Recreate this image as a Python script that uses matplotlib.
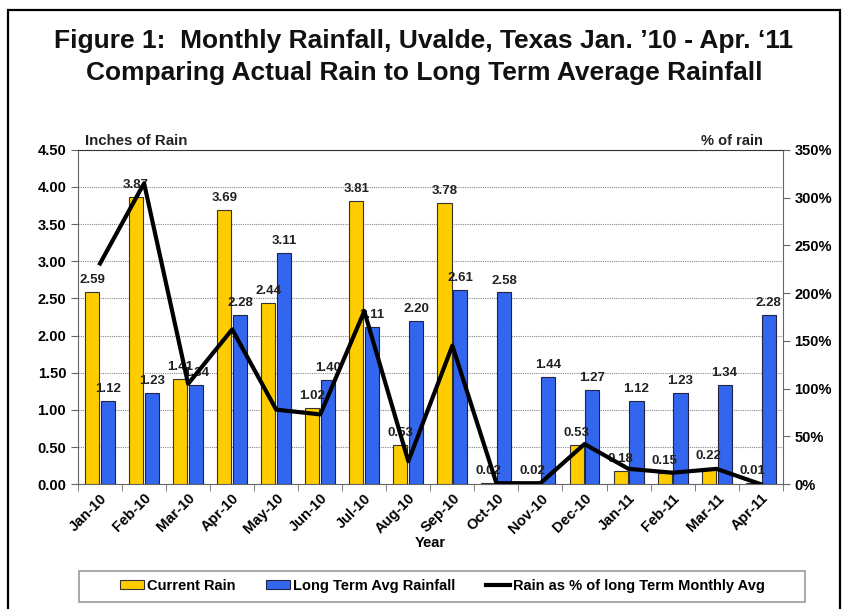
import numpy as np
import matplotlib
matplotlib.use("Agg")
import matplotlib.pyplot as plt
from matplotlib.patches import Rectangle
from matplotlib.ticker import FuncFormatter, MultipleLocator

plt.rcParams['font.family'] = ['Liberation Sans', 'DejaVu Sans']

months = ['Jan-10', 'Feb-10', 'Mar-10', 'Apr-10', 'May-10', 'Jun-10', 'Jul-10', 'Aug-10',
          'Sep-10', 'Oct-10', 'Nov-10', 'Dec-10', 'Jan-11', 'Feb-11', 'Mar-11', 'Apr-11']
current_rain = [2.59, 3.87, 1.41, 3.69, 2.44, 1.02, 3.81, 0.53,
                3.78, 0.02, 0.02, 0.53, 0.18, 0.15, 0.22, 0.01]
long_term_avg = [1.12, 1.23, 1.34, 2.28, 3.11, 1.40, 2.11, 2.20,
                 2.61, 2.58, 1.44, 1.27, 1.12, 1.23, 1.34, 2.28]
pct_of_avg = [231, 315, 105, 162, 78, 73, 181, 24,
              145, 1, 1, 42, 16, 12, 16, 0]

yellow = '#FFCC00'
blue = '#3366EE'

fig = plt.figure(figsize=(8.48, 6.09), dpi=100)
# outer frame (bottom edge runs off the picture)
fig.patches.append(Rectangle((0.0094, -0.02), 0.9812, 1.004, transform=fig.transFigure,
                             fill=False, edgecolor='black', linewidth=1.6))

ax = fig.add_axes([0.092, 0.205, 0.831, 0.549])
x = np.arange(len(months))
w = 0.32
ax.bar(x - w / 2 - 0.02, current_rain, w, color=yellow, edgecolor='#333333', linewidth=0.8,
       label='Current Rain', zorder=3)
ax.bar(x + w / 2 + 0.02, long_term_avg, w, color=blue, edgecolor='#222244', linewidth=0.8,
       label='Long Term Avg Rainfall', zorder=3)

for i in range(len(months)):
    ax.text(x[i] - w / 2 - 0.02, current_rain[i] + 0.08, '%.2f' % current_rain[i],
            ha='center', va='bottom', fontsize=9.5, fontweight='bold', color='#222222', zorder=6)
    ax.text(x[i] + w / 2 + 0.02, long_term_avg[i] + 0.08, '%.2f' % long_term_avg[i],
            ha='center', va='bottom', fontsize=9.5, fontweight='bold', color='#222222', zorder=6)

ax.set_xlim(-0.5, len(months) - 0.5)
ax.set_ylim(0, 4.5)
ax.yaxis.set_major_locator(MultipleLocator(0.5))
ax.yaxis.set_major_formatter(FuncFormatter(lambda v, p: '%.2f' % v))
ax.grid(axis='y', color='#888888', linestyle=(0, (1, 1)), linewidth=0.8, zorder=0)
ax.set_xticks(x)
ax.set_xticklabels(months, rotation=45, ha='right', rotation_mode='anchor',
                   fontsize=10.5, fontweight='bold')
ax.set_xticks(np.arange(-0.5, len(months)), minor=True)
ax.tick_params(axis='x', which='major', length=0, pad=5)
ax.tick_params(axis='x', which='minor', length=5, direction='out', color='#666666')
ax.tick_params(axis='y', labelsize=10.5, length=5, color='#666666')
for lab in ax.get_yticklabels():
    lab.set_fontweight('bold')
ax.set_xlabel('Year', fontsize=10.5, fontweight='bold', labelpad=0)
for s in ax.spines.values():
    s.set_color('#666666')
ax.spines['top'].set_color('#333333')

ax2 = ax.twinx()
line, = ax2.plot(x, pct_of_avg, color='black', linewidth=3, zorder=5,
                 label='Rain as % of long Term Monthly Avg')
ax2.set_ylim(0, 350)
ax2.yaxis.set_major_locator(MultipleLocator(50))
ax2.yaxis.set_major_formatter(FuncFormatter(lambda v, p: '%d%%' % v))
ax2.tick_params(axis='y', labelsize=10.5, length=5, color='#666666')
for lab in ax2.get_yticklabels():
    lab.set_fontweight('bold')
for s in ax2.spines.values():
    s.set_visible(False)

fig.text(0.100, 0.762, 'Inches of Rain', fontsize=10.8, fontweight='bold', color='#222222')
fig.text(0.900, 0.762, '% of rain', fontsize=10.5, fontweight='bold', color='#222222', ha='right')

fig.text(0.5, 0.932, "Figure 1:  Monthly Rainfall, Uvalde, Texas Jan. \u201910 - Apr. \u201811",
         ha='center', va='center', fontsize=19, fontweight='bold', color='#111111')
fig.text(0.5, 0.880, 'Comparing Actual Rain to Long Term Average Rainfall',
         ha='center', va='center', fontsize=19, fontweight='bold', color='#111111')

# legend box drawn separately so it can be wider than its content
fig.patches.append(Rectangle((79 / 848, 1 - 602 / 609), 726 / 848, 31 / 609,
                             transform=fig.transFigure, fill=False,
                             edgecolor='#999999', linewidth=1.2))
h1, l1 = ax.get_legend_handles_labels()
leg = fig.legend(h1 + [line], l1 + [line.get_label()], loc='center',
                 bbox_to_anchor=(442 / 848, 1 - 586 / 609), ncol=3, frameon=False,
                 prop={'size': 10.5, 'weight': 'bold'}, handlelength=1.7, handleheight=0.55,
                 handletextpad=0.15, columnspacing=2.1, borderpad=0.3)

fig.savefig('out.png', dpi=100)
